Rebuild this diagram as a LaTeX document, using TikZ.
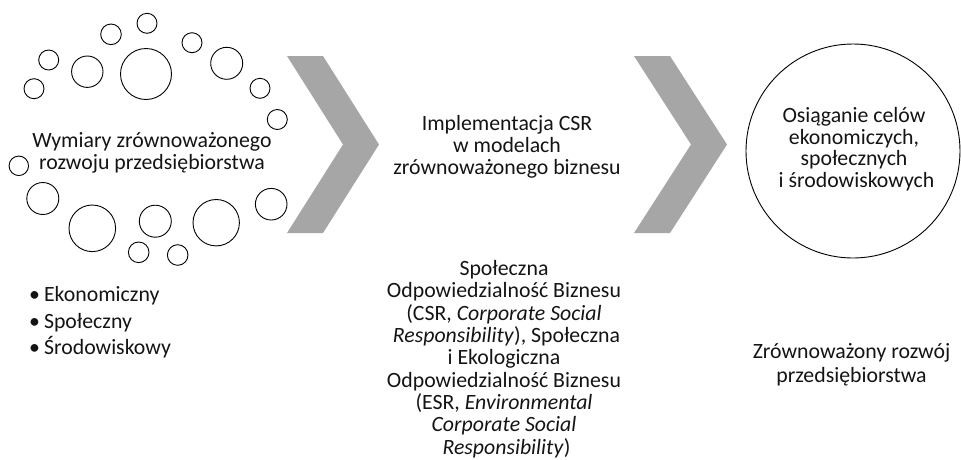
\documentclass[tikz,border=0pt]{standalone}
\usepackage{fontspec}
\setmainfont{Carlito}
\definecolor{chevgray}{RGB}{166,166,166}
\definecolor{ink}{RGB}{20,20,20}
\begin{document}
\begin{tikzpicture}[x=1pt,y=-1pt,
  bubble/.style={circle,draw=black,line width=0.9pt,inner sep=0pt,minimum size=#1},
  chevron/.style={fill=chevgray,draw=none},
  % multi-line labels: the base anchor sits on the last line
  txt/.style={inner sep=0pt,align=center,text=ink,anchor=base,
    font=\fontsize{21.8}{22}\selectfont},
  listitem/.style={inner sep=0pt,anchor=base west,text=ink,
    font=\fontsize{21.8}{22}\selectfont}]
\useasboundingbox (0,0) rectangle (961,459);

% ring of bubbles around the first stage
\node[bubble=20pt] (b1)  at (147,23.3) {};
\node[bubble=20.6pt] (b2)  at (111,34.3) {};
\node[bubble=20pt] (b3)  at (192,42.7) {};
\node[bubble=20pt] (b4)  at (48.7,60) {};
\node[bubble=31.4pt] (b5)  at (87.3,71.7) {};
\node[bubble=51pt] (b6)  at (146,74) {};
\node[bubble=32pt] (b7)  at (226.7,63.3) {};
\node[bubble=20pt] (b8)  at (34,88.7) {};
\node[bubble=20pt] (b9)  at (260,88.3) {};
\node[bubble=20pt] (b10) at (277.3,119.5) {};
\node[bubble=19.5pt] (b11) at (18.8,165.8) {};
\node[bubble=32pt] (b12) at (42.8,198.5) {};
\node[bubble=46.6pt] (b13) at (92.3,228.3) {};
\node[bubble=32pt] (b14) at (155.3,221.2) {};
\node[bubble=46.4pt] (b15) at (216.2,222.7) {};
\node[bubble=31.6pt] (b16) at (271.2,204.2) {};
\node[bubble=20.6pt] (b17) at (138.7,252.3) {};
\node[bubble=20.6pt] (b18) at (177.7,255) {};

% process chevrons
\fill[chevron] (287,56) -- (323,56) -- (379,144.5) -- (323,233) -- (287,233) -- (343,144.5) -- cycle;
\fill[chevron] (634,56) -- (670,56) -- (727,144.5) -- (670,233) -- (634,233) -- (691,144.5) -- cycle;

% goal circle
\coordinate (goal) at (853,151);
\draw[line width=0.9pt] (goal) circle[radius=107];

% stage titles
\node[txt] (dim) at (152,169) {Wymiary zrównoważonego\hspace{4pt}\\rozwoju przedsiębiorstwa};
\node[txt] (impl) at (507,174) {Implementacja CSR\\w modelach\\zrównoważonego biznesu};
\node[txt,font=\fontsize{21.8}{21.6}\selectfont] (aims) at (854,187.3)
  {Osiąganie celów\\ekonomiczych,\\społecznych\\\hspace{5pt}i środowiskowych};

% descriptions under the stages
\node[listitem] (l1) at (29,301.7) {•\hspace{4pt}Ekonomiczny};
\node[listitem] (l2) at (29,328.2) {•\hspace{4pt}Społeczny};
\node[listitem] (l3) at (29,354.6) {•\hspace{4pt}Środowiskowy};

\node[txt,font=\fontsize{21.8}{22.3}\selectfont] (csr) at (504,454)
  {Społeczna\\Odpowiedzialność Biznesu\\(CSR, \textit{Corporate Social}\\
   \hspace{5pt}\textit{Responsibility}), Społeczna\\i Ekologiczna\\Odpowiedzialność Biznesu\\
   (ESR, \textit{Environmental}\\\textit{Corporate Social}\\\hspace{5pt}\textit{Responsibility})};

\node[txt,font=\fontsize{21.8}{24}\selectfont] (sd) at (851.5,382.5)
  {Zrównoważony rozwój\\przedsiębiorstwa};
\end{tikzpicture}
\end{document}
